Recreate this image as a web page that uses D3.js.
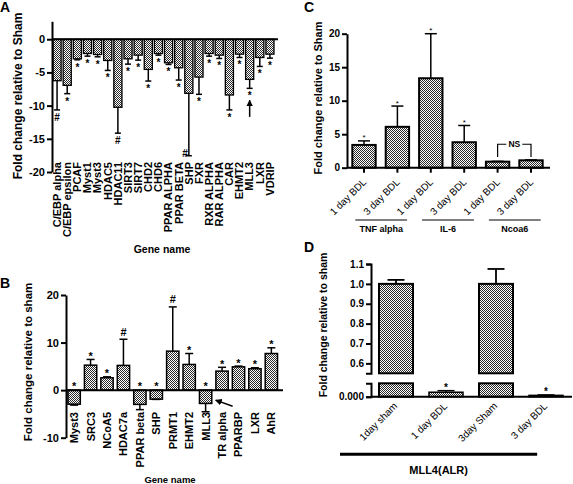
<!DOCTYPE html>
<html><head><meta charset="utf-8">
<script src="https://cdn.jsdelivr.net/npm/d3@7"></script>
<style>body{margin:0;background:#fff} text{font-family:"Liberation Sans",Arial,sans-serif}</style>
</head><body><svg id="c" width="573" height="484"></svg>
<script>
// ---------- Panel A ----------
const genesA = ["C/EBP alpha","C/EBP epsilon","PCAF","Myst1","Myst3","HDAC5","HDAC11","SIRT3","SIRT7","CHD2","CHD6","PPAR ALPHA","PPAR BETA","SHP","FXR","RXR ALPHA","RAR ALPHA","CAR","EHMT2","MLL3","LXR","VDRIP"];
const valuesA = [-6.25,-6.95,-2.95,-2.15,-2.3,-3.2,-10.25,-2.95,-2.4,-4.55,-2.15,-3.55,-4.3,-8.15,-5.7,-2.15,-2.4,-8.4,-2.25,-6.05,-2.75,-2.25];
const errorsA = [4.4,1.25,0.15,0.4,0.35,1.5,3.9,0.8,0.75,1.75,0.25,0.25,1.85,9.4,2.6,0.4,0.5,2.25,0.5,1.35,1.35,0.6];
const marksA = ["#","*","*","*","*","*","#","*","*","*","*","*","*","#","*","*","*","*","*","*","*","*"];
const ticksA = [0,-5,-10,-15,-20];

// ---------- Panel B ----------
const genesB = ["Myst3","SRC3","NCoA5","HDAC7a","PPAR beta","SHP","PRMT1","EHMT2","MLL3","TR alpha","PPARBP","LXR","AhR"];
const valuesB = [-2.95,5.25,2.6,5.2,-3.0,-1.9,8.2,5.4,-2.8,4.0,4.9,4.5,7.7];
const errorsB = [0.2,1.2,0.2,5.5,1.1,0.05,9.3,2.3,1.75,0.8,0.15,0.2,1.2];
const marksB = ["*","*","*","#","*","*","#","*","*","*","*","*","*"];
const ticksB = [20,10,0,-10];

// ---------- Panel C ----------
const conditionsC = ["1 day BDL","3 day BDL","1 day BDL","3 day BDL","1 day BDL","3 day BDL"];
const groupsC = ["TNF alpha","TNF alpha","IL-6","IL-6","Ncoa6","Ncoa6"];
const valuesC = [3.4,6.1,13.35,3.8,0.9,1.1];
const errorsC = [0.6,3.1,6.65,2.5,0.05,0.06];
const marksC = ["*","*","*","*","",""];
const ticksC = [0,5,10,15,20];

// ---------- Panel D ----------
const conditionsD = ["1day sham","1 day BDL","3day Sham","3 day BDL"];
const valuesD = [1.0,0.02,1.0,0.006];
const errorsD = [0.02,0.007,0.075,0.002];
const marksD = ["","*","","*"];
const ticksDUpper = [0.6,0.7,0.8,0.9,1.0,1.1];
const ticksDLower = [0];
const groupD = "MLL4(ALR)";

const FONT = '"Liberation Sans", Arial, sans-serif';
const svg = d3.select("#c");
const defs = svg.append("defs");
const pat = defs.append("pattern").attr("id","dots").attr("patternUnits","userSpaceOnUse").attr("width",2).attr("height",2);
pat.append("rect").attr("width",2).attr("height",2).attr("fill","#fff");
pat.append("rect").attr("x",0).attr("y",0).attr("width",1).attr("height",1).attr("fill","#2a2a2a");
pat.append("rect").attr("x",1).attr("y",1).attr("width",1).attr("height",1).attr("fill","#2a2a2a");
defs.append("marker").attr("id","arrow").attr("viewBox","0 0 10 10").attr("refX",9).attr("refY",5)
  .attr("markerWidth",4.5).attr("markerHeight",4.5).attr("orient","auto")
  .append("path").attr("d","M0,0L10,5L0,10z").attr("fill","#000");

function txt(x,y,s,fs,weight,anchor,rot){
  const t = svg.append("text").attr("font-family",FONT).attr("font-size",fs).attr("font-weight",weight||"normal")
    .attr("text-anchor",anchor||"start").attr("fill","#000").text(s);
  t.attr("transform",`translate(${x},${y})`+(rot?` rotate(${rot})`:""));
  return t;
}
function yAxis(scale,x,ticks,fmt,fs,tl,outer){
  const g = svg.append("g").attr("transform",`translate(${x},0)`)
    .call(d3.axisLeft(scale).tickValues(ticks).tickFormat(fmt).tickSizeOuter(outer||0).tickSizeInner(tl).tickPadding(2));
  g.select(".domain").attr("stroke","#000").attr("stroke-width",2);
  g.selectAll(".tick line").attr("stroke","#000").attr("stroke-width",2);
  g.selectAll(".tick text").attr("font-size",fs).attr("font-weight","bold").attr("font-family",FONT).attr("fill","#000");
  return g;
}
function hline(x1,x2,y,w){ svg.append("line").attr("x1",x1).attr("x2",x2).attr("y1",y).attr("y2",y).attr("stroke","#000").attr("stroke-width",w||2); }
function errBar(cx,y1,y2,cap,w){
  svg.append("line").attr("x1",cx).attr("x2",cx).attr("y1",y1).attr("y2",y2).attr("stroke","#000").attr("stroke-width",w||1.5);
  svg.append("line").attr("x1",cx-cap/2).attr("x2",cx+cap/2).attr("y1",y2).attr("y2",y2).attr("stroke","#000").attr("stroke-width",w||1.5);
}
function bar(x,y1,y2,w,sw){
  svg.append("rect").attr("x",x).attr("y",Math.min(y1,y2)).attr("width",w).attr("height",Math.abs(y2-y1))
    .attr("fill","url(#dots)").attr("stroke","#000").attr("stroke-width",sw||1.5);
}

// ===== A =====
const xA = d3.scaleBand().domain(genesA).range([52,275]).paddingInner(0.2).paddingOuter(0.1);
const yA = d3.scaleLinear().domain([-20,2.7]).range([172,21.3]);
genesA.forEach((g,i)=>{
  const x = xA(g), bw = xA.bandwidth(), cx = x+bw/2;
  bar(x,yA(0),yA(valuesA[i]),bw,1.3);
  const ye = yA(valuesA[i]-errorsA[i]);
  errBar(cx,yA(valuesA[i]),ye,6,1.5);
  if (ye+11 > 160) txt(cx-1,ye+1,marksA[i],10,"bold","end");
  else txt(cx,ye+11,marksA[i],10,"bold","middle");
  txt(cx+3.8,162,g,11,"bold","end",-90);
});
hline(52,278,yA(0),2);
yAxis(yA,52,ticksA,d=>String(d),11,5);
{
  const cx = xA("MLL3")+xA.bandwidth()/2;
  svg.append("line").attr("x1",cx).attr("x2",cx).attr("y1",yA(-11.7)).attr("y2",yA(-9.2))
    .attr("stroke","#000").attr("stroke-width",1.5).attr("marker-end","url(#arrow)");
}
txt(21.8,96,"Fold change relative to Sham",12,"bold","middle",-90);
txt(162,253,"Gene name",10.5,"bold","middle");
txt(0,12,"A",14,"bold");

// ===== B =====
const xB = d3.scaleBand().domain(genesB).range([66,279.5]).paddingInner(0.25).paddingOuter(0.12);
const yB = d3.scaleLinear().domain([-10,20]).range([437.7,295]);
genesB.forEach((g,i)=>{
  const x = xB(g), bw = xB.bandwidth(), cx = x+bw/2, v = valuesB[i];
  bar(x,yB(0),yB(v),bw,1.5);
  const ye = v>=0 ? yB(v+errorsB[i]) : yB(v-errorsB[i]);
  errBar(cx,yB(v),ye,8,1.5);
  let by;
  if (v>=0) by = marksB[i]==="#" ? ye-3.4 : ye+0.5; else by = yB(0)-0.5;
  txt(cx,by,marksB[i],11,"bold","middle");
  txt(cx+4,412,g,11,"bold","end",-90);
});
hline(66,283,yB(0),2);
yAxis(yB,66,ticksB,d=>String(d),11,5);
{
  const cx = xB("MLL3")+xB.bandwidth()/2;
  svg.append("line").attr("x1",cx+27).attr("x2",cx+10).attr("y1",yB(-3.4)).attr("y2",yB(-2.1))
    .attr("stroke","#000").attr("stroke-width",1.5).attr("marker-end","url(#arrow)");
}
txt(31.5,362,"Fold change relative to sham",11.5,"bold","middle",-90);
txt(170,483,"Gene name",9.5,"bold","middle");
txt(0,288,"B",14,"bold");

// ===== C =====
const idxC = conditionsC.map((d,i)=>i);
const xC = d3.scaleBand().domain(idxC).range([347.3,547.7]).paddingInner(0.3).paddingOuter(0.15);
const yC = d3.scaleLinear().domain([0,20]).range([167.7,33.7]);
idxC.forEach(i=>{
  const x = xC(i), bw = xC.bandwidth(), cx = x+bw/2;
  bar(x,yC(0),yC(valuesC[i]),bw,2);
  const ye = yC(valuesC[i]+errorsC[i]);
  errBar(cx,yC(valuesC[i]),ye,12,1.5);
  if (marksC[i]) txt(cx,ye-0.5,marksC[i],8,"normal","middle");
  svg.append("line").attr("x1",cx).attr("x2",cx).attr("y1",yC(0)).attr("y2",yC(0)+5).attr("stroke","#000").attr("stroke-width",2);
  txt(cx+3,yC(0)+15,conditionsC[i],10,"normal","end",-45);
});
hline(347,550,yC(0),2);
yAxis(yC,347,ticksC,d=>String(d),10,5);
// NS bracket
{
  const c5 = xC(4)+xC.bandwidth()/2, c6 = xC(5)+xC.bandwidth()/2, yt = yC(3.5), yb = yC(1.6);
  const mid = (c5+c6)/2;
  svg.append("path").attr("d",`M${c5},${yb}V${yt}H${mid-8}M${mid+8},${yt}H${c6}V${yb}`).attr("fill","none").attr("stroke","#000").attr("stroke-width",1.2);
  txt(mid,yt+3,"NS",8.5,"bold","middle");
}
// groups
Array.from(new Set(groupsC)).forEach(gname=>{
  const ids = idxC.filter(i=>groupsC[i]===gname);
  const x1 = xC(ids[0])+3, x2 = xC(ids[ids.length-1])+xC.bandwidth()-2;
  hline(x1,x2,220,1.2);
  txt((x1+x2)/2,232,gname,9,"bold","middle");
});
txt(322,98,"Fold change relative to Sham",11,"bold","middle",-90);
txt(304,12,"C",14,"bold");

// ===== D =====
const xD = d3.scaleBand().domain(conditionsD).range([371,571]).paddingInner(0.32).paddingOuter(0.16);
const yDu = d3.scaleLinear().domain([0.55,1.1]).range([373.3,264]);
const yDl = d3.scaleLinear().domain([0,0.06]).range([396.7,383.3]);
conditionsD.forEach((c,i)=>{
  const x = xD(c), bw = xD.bandwidth(), cx = x+bw/2, v = valuesD[i];
  if (v > yDl.domain()[1]) {
    bar(x,yDl(0),yDl(yDl.domain()[1]),bw,2);
    bar(x,yDu(yDu.domain()[0]),yDu(v),bw,2);
    errBar(cx,yDu(v),yDu(v+errorsD[i]),17,1.8);
  } else {
    bar(x,yDl(0),yDl(v),bw,1.5);
    const ye = yDl(v+errorsD[i]);
    errBar(cx,yDl(v),ye,17,1.5);
    if (marksD[i]) txt(cx,ye,marksD[i],10,"bold","middle");
  }
  txt(cx+2,yDl(0)+10,c,10,"normal","end",-45);
});
hline(371,572,yDl(0),2);
yAxis(yDu,371,ticksDUpper,d3.format(".1f"),10,5,5);
yAxis(yDl,371,ticksDLower,d3.format(".3f"),10,5,5);
{
  const x1 = xD(conditionsD[0]) - xD.step()*0.78, x2 = xD(conditionsD[3]) + xD.bandwidth()*0.24;
  hline(x1,x2,454.3,3);
  txt((x1+x2)/2,474,groupD,11,"bold","middle");
}
txt(327,325,"Fold change relative to sham",10.5,"bold","middle",-90);
txt(304,252,"D",14,"bold");
</script></body></html>
